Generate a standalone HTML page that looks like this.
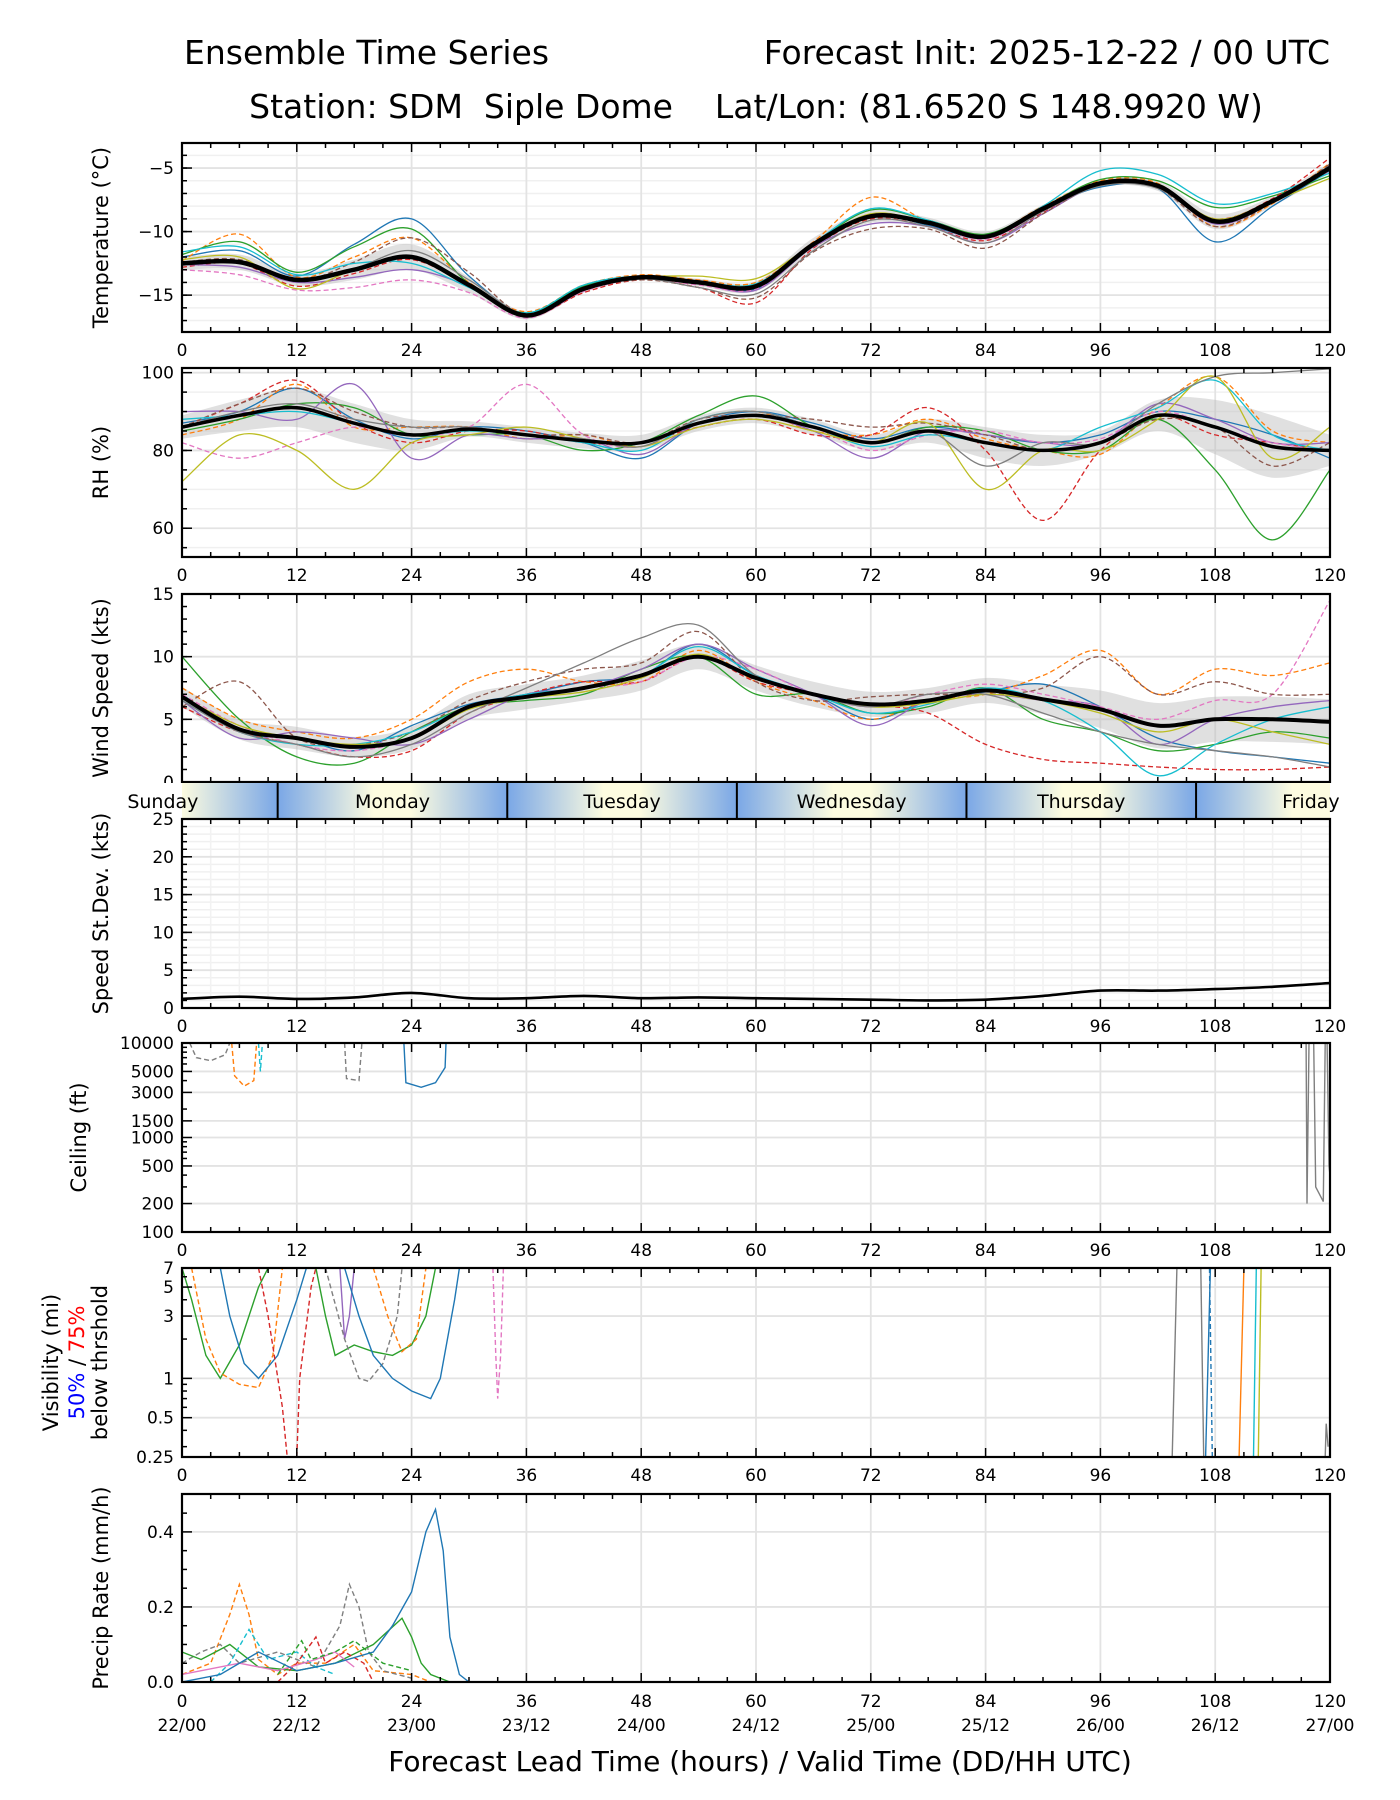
<!DOCTYPE html>
<html><head><meta charset="utf-8"><title>Ensemble Time Series</title>
<style>
html,body{margin:0;padding:0;background:#fff;}
svg{display:block;font-family:"DejaVu Sans","Liberation Sans",sans-serif;}
</style></head>
<body>
<svg id="chart" width="1400" height="1800" viewBox="0 0 1400 1800" xmlns="http://www.w3.org/2000/svg">
<defs>
<linearGradient id="dayg" x1="0" x2="1" y1="0" y2="0">
<stop offset="0" stop-color="#7aa7e6"/><stop offset="0.42" stop-color="#fdfce0"/><stop offset="0.58" stop-color="#fdfce0"/><stop offset="1" stop-color="#7aa7e6"/>
</linearGradient>
</defs>
<text x="184" y="64" font-size="33">Ensemble Time Series</text>
<text x="1330" y="64" font-size="33" text-anchor="end">Forecast Init: 2025-12-22 / 00 UTC</text>
<text x="756" y="118" font-size="33" text-anchor="middle" xml:space="preserve">Station: SDM  Siple Dome    Lat/Lon: (81.6520 S 148.9920 W)</text>
<g id="root"></g>
</svg>
<script>
// ---------- data ----------
const hours6 = [0,6,12,18,24,30,36,42,48,54,60,66,72,78,84,90,96,102,108,114,120];
const xTicks = [0,12,24,36,48,60,72,84,96,108,120];
const dateLabels = ["22/00","22/12","23/00","23/12","24/00","24/12","25/00","25/12","26/00","26/12","27/00"];
const dayNames = ["Sunday","Monday","Tuesday","Wednesday","Thursday","Friday"];
const dayBoundaries = [10,34,58,82,106];
const memberColors = ["#1f77b4","#ff7f0e","#2ca02c","#d62728","#9467bd","#e377c2","#8c564b","#17becf","#bcbd22","#7f7f7f"];
const memberDashed = [false,true,false,true,false,true,true,false,false,false];

const tempMean = [-12.5,-12.4,-13.8,-13.0,-12.0,-14.2,-16.6,-14.5,-13.6,-14.0,-14.3,-11.0,-8.8,-9.3,-10.4,-8.2,-6.2,-6.4,-9.2,-7.6,-5.0];
const tempSpread = [0.5,0.6,0.5,0.8,1.0,0.6,0.3,0.3,0.2,0.3,0.4,0.5,0.5,0.4,0.4,0.3,0.3,0.4,0.6,0.4,0.4];
const tempM1 = [-12,-11.5,-13.5,-11,-9,-13.5,-16.5,-14.3,-13.5,-14,-14.5,-11,-8.7,-9.5,-10.5,-8.2,-6.5,-6.6,-10.8,-8,-5.2];
const tempM2 = [-12.3,-10.2,-13.6,-12,-10.5,-14,-16.3,-14.2,-13.4,-13.8,-14,-10.8,-7.3,-9.2,-10.3,-8,-6.0,-6.2,-9.6,-7.8,-4.6];
const tempM3 = [-11.8,-10.8,-13.2,-11.2,-9.8,-14.1,-16.4,-14.3,-13.6,-13.9,-14.2,-11,-8.3,-9.1,-10.2,-8.1,-5.9,-6.0,-8.1,-7.2,-5.6];
const tempM4 = [-12.8,-12.5,-14.3,-13.3,-12.2,-14.3,-16.7,-14.8,-13.8,-14.4,-15.6,-11.3,-9,-9.6,-10.7,-8.5,-6.1,-6.5,-9.0,-7.4,-4.2];
const tempM5 = [-12.6,-12.8,-14,-13.6,-13,-14.3,-16.6,-14.5,-13.7,-14.1,-14.6,-11.2,-9.4,-9.6,-10.9,-8.6,-6.3,-6.5,-9.4,-7.7,-4.9];
const tempM6 = [-13,-13.4,-14.6,-14.4,-13.8,-14.8,-16.8,-14.7,-13.7,-14.2,-14.5,-11.1,-8.8,-9.4,-10.6,-8.4,-6.2,-6.4,-9.3,-7.6,-5.2];
const tempM7 = [-12.4,-12.2,-13.9,-12.4,-10.5,-13.2,-16.6,-14.6,-13.8,-14.4,-15.2,-11.6,-9.8,-9.8,-11.3,-8.6,-6.3,-6.6,-9.6,-7.7,-4.7];
const tempM8 = [-11.6,-11.2,-13.4,-12.5,-12.5,-14.4,-16.4,-14.2,-13.5,-13.9,-14.1,-10.9,-8.2,-9.1,-10.3,-8.0,-5.2,-5.5,-7.8,-7.0,-5.4];
const tempM9 = [-12.2,-12.0,-14.5,-13.0,-12.0,-14.2,-16.5,-14.4,-13.6,-13.5,-13.7,-11,-8.6,-9.3,-10.5,-8.3,-6.2,-6.4,-9.0,-7.6,-5.8];
const tempM10 = [-12.6,-12.3,-13.7,-12.9,-11.5,-13.8,-16.5,-14.5,-13.7,-14.4,-14.9,-11.5,-9.1,-9.6,-10.9,-8.4,-6.4,-6.6,-9.3,-7.6,-4.8];

const rhMean = [86,89,91,87,84,85.5,84,82.5,82,87,89,86,82,85,82,80,82,89,86,81,80];
const rhSpread = [3,4,5,5,4,2,2,2,2,2,2,2,2,3,4,4,3,4,7,8,4];
const rhM1 = [87,90,96,88,83,86,85,82,78,87,90,87,83,86,84,82,84,90,88,84,78];
const rhM2 = [84,88,97,86,86,86,83,84,81,88,90,85,84,88,83,80,79,91,99,85,82];
const rhM3 = [85,88,92,91,84,84,84,80,82,89,94,86,82,86,85,80,80,88,75,57,75];
const rhM4 = [86,92,98,87,82,85,85,82,82,86,88,84,84,91,80,62,80,89,84,82,80];
const rhM5 = [90,90,88,97,78,84,83,83,79,87,89,85,78,85,84,82,82,92,88,82,82];
const rhM6 = [82,78,82,86,84,86,97,84,81,88,90,86,80,84,85,82,83,90,86,82,80];
const rhM7 = [86,92,96,90,86,86,84,84,82,88,89,88,86,87,84,80,82,88,86,76,82];
const rhM8 = [88,89,90,87,84,85,84,82,80,88,90,86,81,84,82,80,86,91,98,84,80];
const rhM9 = [72,84,80,70,82,84,86,83,81,86,88,85,82,87,70,80,80,88,99,78,86];
const rhM10 = [86,90,92,88,86,86,84,83,81,88,90,86,82,85,76,82,82,92,99,100,101];

const windMean = [6.8,4.2,3.5,2.8,3.5,6.0,6.8,7.5,8.5,10.0,8.3,7.0,6.2,6.5,7.3,6.6,5.8,4.5,5.0,5.0,4.8];
const windSpread = [0.8,0.8,0.9,0.8,0.9,1,1,1,1.2,1,1,1,1,1,1,1.2,1.5,1.8,1.8,1.8,1.8];
const windM1 = [7,4,3.5,2.5,4.5,6.2,7,8,8.5,11,8.5,7,5,6.5,7.2,7.8,6,3.5,2.5,2,1.5];
const windM2 = [7.5,5,4,3.5,5,8,9,8,8,10.5,8,6.5,5,6.5,7,8.5,10.5,7,9,8.5,9.5];
const windM3 = [10,5,2,1.5,4,6,6.5,7,9,10,7,7,5.5,6,7.5,5,4,2.5,3,4,3.5];
const windM4 = [6,4,3,2,2.5,5.5,7,8,8,10,8,7,6.2,5.5,3,1.8,1.5,1.2,1,1,1.2];
const windM5 = [6.5,3.5,4,3.5,3,5,7,7.5,9,11,9,7,4.5,6.5,7,6.5,6,3,5,6,6.5];
const windM6 = [7,4.5,3,2.5,3.5,6,6.8,7.5,8,10,9,7,6,7,7.8,7,6,5,6.5,7,14.5];
const windM7 = [6,8,3.5,3,4,6.5,8,9,9.5,12,8,6.5,6.8,7,7,7.5,10,7,8,7,7];
const windM8 = [6.5,4,3,3,4,6,7,7.5,8.5,10.8,8.5,7,5.5,6.2,7.5,6.5,4,0.5,3,5,6];
const windM9 = [6.8,4.5,3.5,3,3.5,5.8,6.7,7.2,8.3,10.2,8.2,7,6,6.3,7,6.5,5.5,4,5,4,3];
const windM10 = [6.5,4,3,2,3,5.5,7.5,9.5,11.5,12.5,8.5,7,6,7,7,5.5,4,3,2.5,2,1.2];

const stdDev = [1.2,1.5,1.2,1.4,2.0,1.3,1.3,1.6,1.3,1.4,1.3,1.2,1.1,1.0,1.1,1.6,2.3,2.3,2.5,2.8,3.3];

// ceiling segments: [hour, feet]
const ceilGrayDash = [[0.8,10000],[1.5,7000],[3,6500],[4.5,7500],[5,10000]];
const ceilOrangeDash = [[5.2,10000],[5.5,4500],[6.5,3500],[7.5,4000],[7.8,10000]];
const ceilCyanDash = [[8,10000],[8.2,5000],[8.4,10000]];
const ceilGrayDash2 = [[17,10000],[17.2,4200],[18.5,4000],[18.8,10000]];
const ceilBlue = [[23.2,10000],[23.4,3800],[25,3400],[26.5,3800],[27.5,5500],[27.6,10000]];
const ceilGray1 = [[117.5,10000],[117.6,200],[117.8,10000]];
const ceilGray2 = [[118.3,10000],[118.5,300],[119.3,210],[119.5,10000]];
const ceilGray3 = [[119.7,10000],[119.9,500],[120,400]];

// visibility segments: [hour, miles]
const visGreen = [[0,7],[1,4],[2.5,1.5],[4,1],[6,1.8],[8,5],[9,7]];
const visOrangeDash = [[1,7],[2.5,2],[4,1.1],[6,0.9],[8,0.85],[9.5,1.5],[10.5,7]];
const visBlue = [[4,7],[5,3],[6.5,1.3],[8,1],[10,1.5],[12,4],[13,7]];
const visRedDash = [[8,7],[9,3],[10.5,0.6],[11,0.25]];
const visRedDash2 = [[12,0.25],[12.3,1],[13.5,5],[14,7]];
const visPurple = [[16.5,7],[17,2],[17.5,3],[18,7]];
const visGreen2 = [[14,7],[15,3],[16,1.5],[18,1.8],[20,1.6],[22,1.5],[24,1.8],[25.5,3],[26.5,7]];
const visGrayDash = [[15,7],[17,2],[18.5,1],[19.5,0.95],[21,1.3],[22.5,3],[23,7]];
const visBlue2 = [[17,7],[18.5,3],[20,1.5],[22,1],[24,0.8],[26,0.7],[27,1],[28.5,4],[29,7]];
const visPinkDash = [[32.5,7],[32.8,1.5],[33,0.7],[33.3,1.5],[33.6,7]];
const visOrangeDash2 = [[20,7],[21.5,3],[23,1.6],[24.5,2],[25.5,7]];
const visGrayA = [[103.5,0.25],[104,7]];
const visGrayB = [[106.5,7],[106.8,0.25]];
const visBlueA = [[107,0.25],[107.5,7]];
const visBlueDashA = [[107.4,7],[107.7,0.25]];
const visOrangeA = [[110.5,0.25],[111,7]];
const visCyanA = [[112,0.25],[112.3,7]];
const visOliveA = [[112.5,0.25],[112.8,7]];
const visGrayC = [[119.5,0.25],[119.6,0.45],[119.8,0.3]];

// precip: [hour, mm/h]
const prBlue = [[0,0],[4,0.02],[8,0.08],[12,0.03],[16,0.05],[20,0.08],[22,0.15],[24,0.24],[25.5,0.40],[26.5,0.46],[27.3,0.35],[28,0.12],[29,0.02],[30,0]];
const prOrangeDash = [[0,0.02],[3,0.05],[5,0.18],[6,0.26],[7,0.18],[8,0.06],[10,0.02],[12,0.05],[15,0.05],[18,0.1],[20,0.03],[24,0.02],[26,0]];
const prGrayDash = [[0,0.05],[2,0.08],[4,0.1],[6,0.05],[10,0.08],[14,0.04],[16.5,0.15],[17.5,0.26],[18.5,0.2],[19.5,0.08],[21,0.03],[24,0.01]];
const prGreen = [[0,0.08],[2,0.06],[5,0.1],[8,0.04],[12,0.03],[16,0.05],[20,0.1],[23,0.17],[24,0.12],[25,0.05],[26,0.02],[28,0]];
const prCyanDash = [[3,0],[5,0.05],[7,0.14],[9,0.06],[12,0.08],[14,0.04],[16,0.02]];
const prRedDash = [[10,0],[12,0.05],[14,0.12],[15,0.05],[17,0.08],[19,0.05],[20,0]];
const prPink = [[0,0.02],[6,0.05],[10,0.03],[14,0.06],[16,0.08],[18,0.04]];
const prGreenDash = [[10,0.02],[12.5,0.11],[13.5,0.06],[16,0.08],[18,0.11],[21,0.05],[24,0.03]];

// ---------- rendering ----------
const NS = "http://www.w3.org/2000/svg";
const root = document.getElementById('root');
const X0 = 182, X1 = 1330;
function xs(h){ return X0 + h*(X1-X0)/120; }
function mk(tag, attrs, parent){
  const e = document.createElementNS(NS, tag);
  for (const k in attrs) e.setAttribute(k, attrs[k]);
  (parent||root).appendChild(e);
  return e;
}
function smoothPath(pts){
  let d = "M"+pts[0][0].toFixed(1)+","+pts[0][1].toFixed(1);
  for (let i=0;i<pts.length-1;i++){
    const p0=pts[Math.max(0,i-1)], p1=pts[i], p2=pts[i+1], p3=pts[Math.min(pts.length-1,i+2)];
    const c1x=p1[0]+(p2[0]-p0[0])/6, c1y=p1[1]+(p2[1]-p0[1])/6;
    const c2x=p2[0]-(p3[0]-p1[0])/6, c2y=p2[1]-(p3[1]-p1[1])/6;
    d += " C"+c1x.toFixed(1)+","+c1y.toFixed(1)+" "+c2x.toFixed(1)+","+c2y.toFixed(1)+" "+p2[0].toFixed(1)+","+p2[1].toFixed(1);
  }
  return d;
}
function linePath(pts){ return pts.map((p,i)=>(i?"L":"M")+p[0].toFixed(1)+","+p[1].toFixed(1)).join(" "); }

function panel(cfg){
  const g = mk('g', {});
  
  
  const top=cfg.top, bot=cfg.bot;
  const ys = cfg.ys;
  const clipId = 'clip-'+cfg.name;
  const cp = mk('clipPath',{id:clipId},g);
  mk('rect',{x:X0,y:top,width:X1-X0,height:bot-top},cp);
  (cfg.minorGrid||[]).forEach(v=>{ const y=ys(v); mk('line',{x1:X0,x2:X1,y1:y,y2:y,stroke:'#f0f0f0','stroke-width':1.5},g); });
  if (cfg.vminor){ for(let h=3;h<120;h+=3){ if(h%12) mk('line',{x1:xs(h),x2:xs(h),y1:top,y2:bot,stroke:'#f2f2f2','stroke-width':1.5},g);} }
  xTicks.forEach(h=>{ mk('line',{x1:xs(h),x2:xs(h),y1:top,y2:bot,stroke:'#e3e3e3','stroke-width':1.8},g); });
  cfg.yticks.forEach(v=>{ const y=ys(v); mk('line',{x1:X0,x2:X1,y1:y,y2:y,stroke:'#e3e3e3','stroke-width':1.8},g); });
  const dg = mk('g',{'clip-path':'url(#'+clipId+')'},g);
  if (cfg.draw) cfg.draw(dg, ys);
  const fr = mk('rect',{x:X0,y:top,width:X1-X0,height:bot-top,fill:'none',stroke:'#000','stroke-width':2.2},g);
  
  
  for(let h=0;h<=120;h+=3){
    const len = h%12===0?9:5;
    mk('line',{x1:xs(h),x2:xs(h),y1:bot,y2:bot-len,stroke:'#000','stroke-width':1.5},g);
    mk('line',{x1:xs(h),x2:xs(h),y1:top,y2:top+len,stroke:'#000','stroke-width':1.5},g);
  }
  (cfg.yminor||[]).forEach(v=>{ const y=ys(v); mk('line',{x1:X0,x2:X0+5,y1:y,y2:y,stroke:'#000','stroke-width':1.5},g); });
  cfg.yticks.forEach((v,i)=>{
    const y=ys(v);
    mk('line',{x1:X0,x2:X0+10,y1:y,y2:y,stroke:'#000','stroke-width':1.5},g);
    const t = mk('text',{x:X0-8,y:y+6,'font-size':17,'text-anchor':'end'},g);
    t.textContent = cfg.ylabels ? cfg.ylabels[i] : String(v).replace('-','\u2212');
    
    
  });
  if (cfg.xlabels){
    xTicks.forEach(h=>{
      const t = mk('text',{x:xs(h),y:bot+24,'font-size':17,'text-anchor':'middle'},g);
      t.textContent = String(h);
      
      
    });
  }
  if (cfg.title){
    const cy=(top+bot)/2;
    const tx=cfg.titleX||108;
    const t = mk('text',{x:tx,y:cy,'font-size':21,'text-anchor':'middle',transform:'rotate(-90 '+tx+' '+cy+')'},g);
    t.textContent = cfg.title;
    
    
  }
  return g;
}
function drawMembers(g, ys, members, lw){
  members.forEach((m,i)=>{
    const pts = m.map((v,j)=>[xs(hours6[j]), ys(v)]);
    const p = mk('path',{d:smoothPath(pts),fill:'none',stroke:memberColors[i%10],'stroke-width':lw||1.3,'stroke-dasharray':memberDashed[i%10]?'5,3':'none'},g);
    
    
  });
}
function drawBandMean(g, ys, mean, spread){
  const up = mean.map((v,j)=>[xs(hours6[j]), ys(v+spread[j])]);
  const dn = mean.map((v,j)=>[xs(hours6[j]), ys(v-spread[j])]).reverse();
  const b = mk('path',{d:smoothPath(up)+" L"+smoothPath(dn).slice(1)+" Z",fill:'#bbbbbb','fill-opacity':0.45,stroke:'none'},g);
  
  
}
function drawMean(g, ys, mean, w){
  const pts = mean.map((v,j)=>[xs(hours6[j]), ys(v)]);
  const p = mk('path',{d:smoothPath(pts),fill:'none',stroke:'#000','stroke-width':w||4,'stroke-linejoin':'round'},g);
  
  
}
function drawSegs(g, ys, segs){
  segs.forEach(s=>{
    const pts = s.d.map(p=>[xs(p[0]), ys(p[1])]);
    const p = mk('path',{d:linePath(pts),fill:'none',stroke:s.c,'stroke-width':1.4,'stroke-dasharray':s.dash?'5,3':'none'},g);
    
    
  });
}
function lin(top,bot,mn,mx){ return v=> bot-(v-mn)*(bot-top)/(mx-mn); }
function logs(top,bot,mn,mx){ return v=> bot-(Math.log10(v)-Math.log10(mn))*(bot-top)/(Math.log10(mx)-Math.log10(mn)); }
function range(a,b,s){ const r=[]; for(let v=a;v<=b+1e-9;v+=s) r.push(+v.toFixed(3)); return r; }

panel({name:'temperature',top:143,bot:332,ys:lin(143,332,-17.9,-3.03),yticks:[-15,-10,-5],
  yminor:range(-17,-4,1),minorGrid:range(-17,-4,1),xlabels:true,title:'Temperature (\u00B0C)',
  draw:(g,ys)=>{ drawBandMean(g,ys,tempMean,tempSpread); drawMembers(g,ys,[tempM1,tempM2,tempM3,tempM4,tempM5,tempM6,tempM7,tempM8,tempM9,tempM10]); drawMean(g,ys,tempMean,4.5); }});
panel({name:'rh',top:368,bot:557,ys:lin(368,557,52.6,101.2),yticks:[60,80,100],
  yminor:range(55,95,5),minorGrid:range(55,95,5),xlabels:true,title:'RH (%)',
  draw:(g,ys)=>{ drawBandMean(g,ys,rhMean,rhSpread); drawMembers(g,ys,[rhM1,rhM2,rhM3,rhM4,rhM5,rhM6,rhM7,rhM8,rhM9,rhM10]); drawMean(g,ys,rhMean,3.5); }});
panel({name:'wind-speed',top:594,bot:782,ys:lin(594,782,0,15),yticks:[0,5,10,15],
  yminor:range(1,14,1),minorGrid:[],title:'Wind Speed (kts)',
  draw:(g,ys)=>{ drawBandMean(g,ys,windMean,windSpread); drawMembers(g,ys,[windM1,windM2,windM3,windM4,windM5,windM6,windM7,windM8,windM9,windM10]); drawMean(g,ys,windMean,4); }});
(function(){
  const top=783, bot=818;
  const g = mk('g',{});
  
  
  const cp = mk('clipPath',{id:'clip-day'},g);
  mk('rect',{x:X0-80,y:top,width:X1-X0+160,height:bot-top},cp);
  const dg = mk('g',{'clip-path':'url(#clip-day)'},g);
  const starts = [-14].concat(dayBoundaries);
  starts.forEach((s,i)=>{
    const r = mk('rect',{x:xs(s),y:top,width:xs(s+24)-xs(s),height:bot-top,fill:'url(#dayg)'},dg);
    
    
  });
  mk('rect',{x:X0-80,y:top,width:80,height:bot-top,fill:'#fff'},dg);
  mk('rect',{x:X1,y:top,width:80,height:bot-top,fill:'#fff'},dg);
  dayBoundaries.forEach(h=>{ mk('line',{x1:xs(h),x2:xs(h),y1:top,y2:bot,stroke:'#000','stroke-width':2},g); });
  dayNames.forEach((n,i)=>{
    const t = mk('text',{x:xs(-2+24*i),y:top+25,'font-size':19,'text-anchor':'middle'},g);
    t.textContent = n;
    
    
  });
})();
panel({name:'speed-stddev',top:819,bot:1008,ys:lin(819,1008,0,25),yticks:[0,5,10,15,20,25],
  yminor:range(1,24,1),minorGrid:range(1,24,1),vminor:true,xlabels:true,title:'Speed St.Dev. (kts)',
  draw:(g,ys)=>{ drawMean(g,ys,stdDev,2.6); }});
panel({name:'ceiling',top:1043,bot:1232,ys:logs(1043,1232,100,10000),yticks:[100,200,500,1000,1500,3000,5000,10000],
  yminor:[300,400,600,700,800,900,2000,4000,6000,7000,8000,9000],xlabels:true,title:'Ceiling (ft)',titleX:86,
  draw:(g,ys)=>{ drawSegs(g,ys,[
    {d:ceilGrayDash,c:'#7f7f7f',dash:true},{d:ceilOrangeDash,c:'#ff7f0e',dash:true},{d:ceilCyanDash,c:'#17becf',dash:true},
    {d:ceilGrayDash2,c:'#7f7f7f',dash:true},{d:ceilBlue,c:'#1f77b4'},{d:ceilGray1,c:'#7f7f7f'},{d:ceilGray2,c:'#7f7f7f'},{d:ceilGray3,c:'#7f7f7f'}]); }});
panel({name:'visibility',top:1268,bot:1457,ys:logs(1268,1457,0.25,7),yticks:[0.25,0.5,1,3,5,7],
  yminor:[0.3,0.4,0.6,0.7,0.8,0.9,2,4,6],xlabels:true,
  draw:(g,ys)=>{ drawSegs(g,ys,[
    {d:visGreen,c:'#2ca02c'},{d:visOrangeDash,c:'#ff7f0e',dash:true},{d:visBlue,c:'#1f77b4'},{d:visRedDash,c:'#d62728',dash:true},
    {d:visRedDash2,c:'#d62728',dash:true},{d:visPurple,c:'#9467bd'},{d:visGreen2,c:'#2ca02c'},{d:visGrayDash,c:'#7f7f7f',dash:true},
    {d:visBlue2,c:'#1f77b4'},{d:visPinkDash,c:'#e377c2',dash:true},{d:visOrangeDash2,c:'#ff7f0e',dash:true},
    {d:visGrayA,c:'#7f7f7f'},{d:visGrayB,c:'#7f7f7f'},{d:visBlueA,c:'#1f77b4'},{d:visBlueDashA,c:'#1f77b4',dash:true},
    {d:visOrangeA,c:'#ff7f0e'},{d:visCyanA,c:'#17becf'},{d:visOliveA,c:'#bcbd22'},{d:visGrayC,c:'#7f7f7f'}]); }});
(function(){
  const cy=(1268+1457)/2;
  const t1 = mk('text',{x:58,y:cy,'font-size':21,'text-anchor':'middle',transform:'rotate(-90 58 '+cy+')'});
  t1.textContent='Visibility (mi)';
  
  
  const t2 = mk('text',{x:84,y:cy,'font-size':21,'text-anchor':'middle',transform:'rotate(-90 84 '+cy+')'});
  
  
  const a = mk('tspan',{fill:'#0000ff'},t2); a.textContent='50%';
  const b = mk('tspan',{fill:'#000'},t2); b.textContent=' / ';
  const c = mk('tspan',{fill:'#ff0000'},t2); c.textContent='75%';
  const t3 = mk('text',{x:107,y:cy,'font-size':21,'text-anchor':'middle',transform:'rotate(-90 107 '+cy+')'});
  t3.textContent='below thrshold';
  
  
})();
panel({name:'precip-rate',top:1494,bot:1682,ys:lin(1494,1682,0,0.501),yticks:[0,0.2,0.4],ylabels:['0.0','0.2','0.4'],
  yminor:[0.05,0.1,0.15,0.25,0.3,0.35,0.45],title:'Precip Rate (mm/h)',
  draw:(g,ys)=>{ drawSegs(g,ys,[
    {d:prOrangeDash,c:'#ff7f0e',dash:true},{d:prGrayDash,c:'#7f7f7f',dash:true},{d:prGreen,c:'#2ca02c'},{d:prCyanDash,c:'#17becf',dash:true},
    {d:prRedDash,c:'#d62728',dash:true},{d:prPink,c:'#e377c2'},{d:prGreenDash,c:'#2ca02c',dash:true},{d:prBlue,c:'#1f77b4'}]); }});
xTicks.forEach((h,i)=>{
  const t = mk('text',{x:xs(h),y:1707,'font-size':17,'text-anchor':'middle'});
  t.textContent = String(h);
  
  
  const d = mk('text',{x:xs(h),y:1731,'font-size':17,'text-anchor':'middle'});
  d.textContent = dateLabels[i];
  
  
});
const xl = mk('text',{x:760,y:1771,'font-size':28,'text-anchor':'middle'});
xl.textContent = 'Forecast Lead Time (hours) / Valid Time (DD/HH UTC)';


</script>
</body></html>
